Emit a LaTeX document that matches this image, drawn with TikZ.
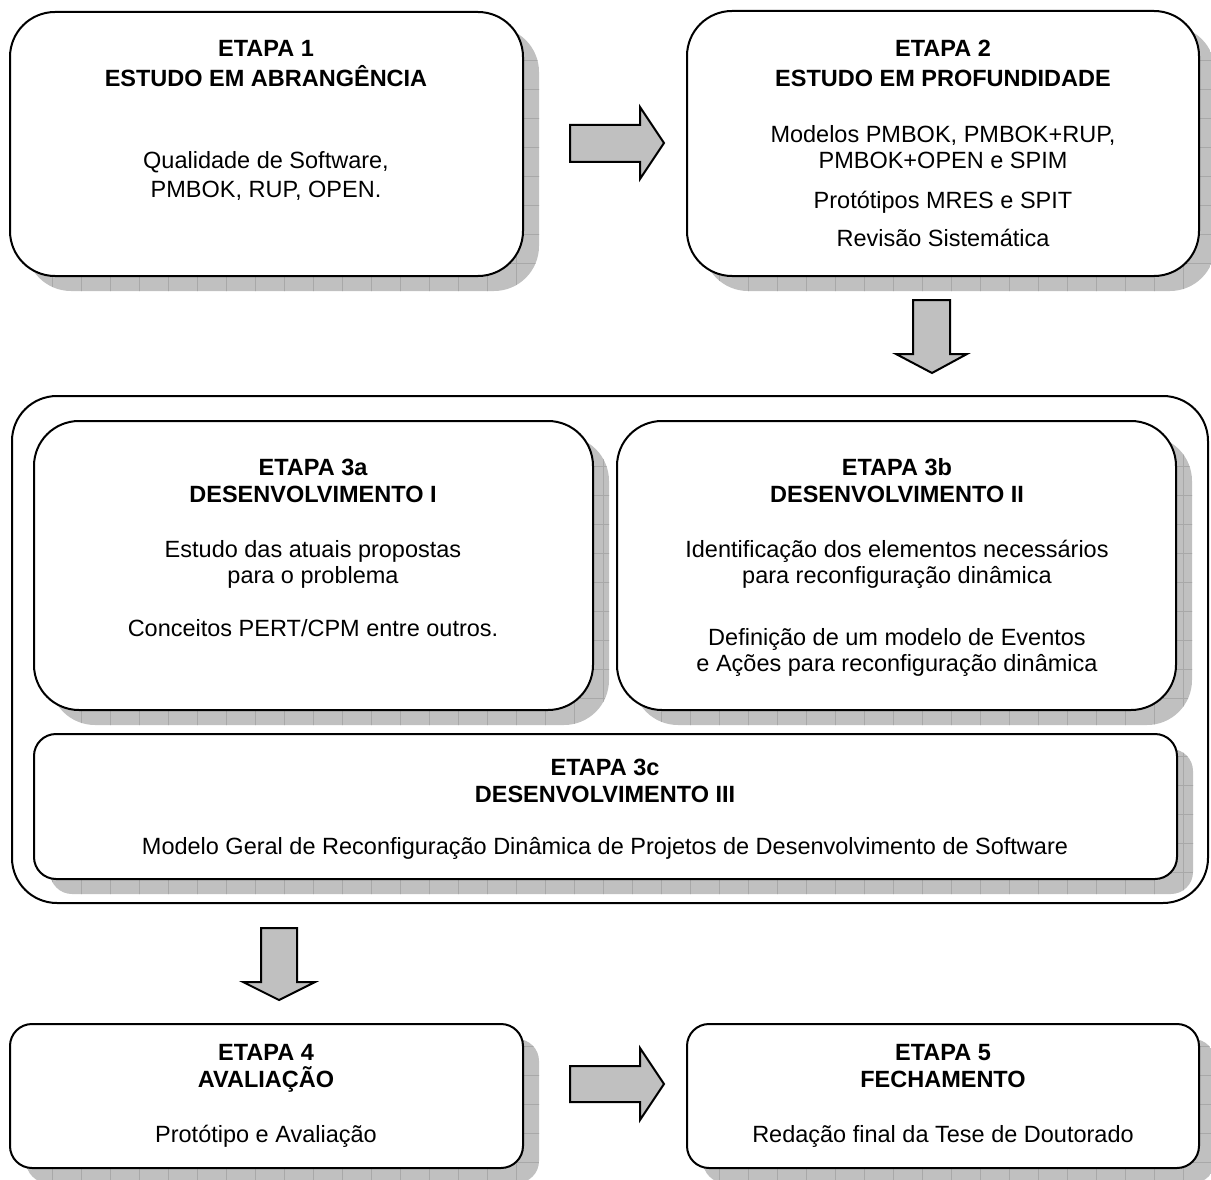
\documentclass[tikz,border=0pt]{standalone}
\usepackage{fontspec}
\setmainfont{Liberation Sans}
\definecolor{shadowgray}{RGB}{192,192,192}
\definecolor{gridgray}{RGB}{168,168,168}
\definecolor{arrowgray}{RGB}{192,192,192}
\newcommand\stagebox[6]{% name, x1, y1, x2, y2, radius
  \begin{scope}
    \clip[rounded corners=#6pt] (#2+16,#3+15) rectangle (#4+16,#5+15);
    \fill[shadowgray] (#2,#3) rectangle (#4+20,#5+20);
    \begin{scope}[shift={(23,2)}]
      \draw[gridgray, line width=0.6pt, step=29pt] (-30,-30) grid (1240,1210);
    \end{scope}
  \end{scope}
  \node[stage, rounded corners=#6pt, minimum width={#4-#2}, minimum height={#5-#3}]
    (#1) at ({(#2+#4)/2},{(#3+#5)/2}) {};
}
\begin{document}
\begin{tikzpicture}[x=1pt,y=-1pt,
  stage/.style={draw=black, line width=2pt, fill=white, inner sep=0pt, outer sep=0pt},
  ttl/.style={font=\fontsize{23.5}{27}\selectfont\bfseries, inner sep=0pt, anchor=base},
  txt/.style={font=\fontsize{23.5}{27}\selectfont, inner sep=0pt, anchor=base},
  blockarrow/.style={draw=black, line width=2pt, fill=arrowgray, line join=miter}]
\useasboundingbox (0,0) rectangle (1211,1180);
\fill[white] (0,0) rectangle (1211,1180);

% boxes
\stagebox{b1}{10}{12}{523}{276}{45}
\stagebox{b2}{687}{11}{1199}{276}{45}
\node[stage, rounded corners=45pt, minimum width=1196, minimum height=507, fill=none] (outer) at (610,649.5) {};
\stagebox{b3a}{34}{421}{593}{710}{45}
\stagebox{b3b}{617}{421}{1176}{710}{45}
\stagebox{b3c}{34}{734}{1177}{879}{22}
\stagebox{b4}{10}{1024}{523}{1168}{22}
\stagebox{b5}{687}{1024}{1199}{1168}{22}

% block arrows
\draw[blockarrow] (570,125) -- (640,125) -- (640,107) -- (664,143) -- (640,179) -- (640,162) -- (570,162) -- cycle;
\draw[blockarrow] (913,300) -- (950,300) -- (950,354) -- (967,354) -- (932,373) -- (896,354) -- (913,354) -- cycle;
\draw[blockarrow] (261,928) -- (297,928) -- (297,982) -- (315,982) -- (279,1000) -- (243,982) -- (261,982) -- cycle;
\draw[blockarrow] (570,1066) -- (640,1066) -- (640,1048) -- (664,1084) -- (640,1120) -- (640,1102) -- (570,1102) -- cycle;

% texts box 1
\node[ttl] (t1a) at (266,57) {ETAPA 1};
\node[ttl] (t1b) at (266,87) {ESTUDO EM ABRANGÊNCIA};
\node[txt] (t1c) at (266,169) {Qualidade de Software,};
\node[txt] (t1d) at (266,197) {PMBOK, RUP, OPEN.};
% box 2
\node[ttl] (t2a) at (943,57) {ETAPA 2};
\node[ttl] (t2b) at (943,87) {ESTUDO EM PROFUNDIDADE};
\node[txt] (t2c) at (943,143) {Modelos PMBOK, PMBOK+RUP,};
\node[txt] (t2d) at (943,169) {PMBOK+OPEN e SPIM};
\node[txt] (t2e) at (943,208) {Protótipos MRES e SPIT};
\node[txt] (t2f) at (943,246) {Revisão Sistemática};
% box 3a
\node[ttl] (t3a1) at (313,475) {ETAPA 3a};
\node[ttl] (t3a2) at (313,502) {DESENVOLVIMENTO I};
\node[txt] (t3a3) at (313,557) {Estudo das atuais propostas};
\node[txt] (t3a4) at (313,583) {para o problema};
\node[txt] (t3a5) at (313,636) {Conceitos PERT/CPM entre outros.};
% box 3b
\node[ttl] (t3b1) at (897,475) {ETAPA 3b};
\node[ttl] (t3b2) at (897,502) {DESENVOLVIMENTO II};
\node[txt] (t3b3) at (897,557) {Identificação dos elementos necessários};
\node[txt] (t3b4) at (897,583) {para reconfiguração dinâmica};
\node[txt] (t3b5) at (897,645) {Definição de um modelo de Eventos};
\node[txt] (t3b6) at (897,671) {e Ações para reconfiguração dinâmica};
% box 3c
\node[ttl] (t3c1) at (605,775) {ETAPA 3c};
\node[ttl] (t3c2) at (605,802) {DESENVOLVIMENTO III};
\node[txt] (t3c3) at (605,854) {Modelo Geral de Reconfiguração Dinâmica de Projetos de Desenvolvimento de Software};
% box 4
\node[ttl] (t4a) at (266,1060) {ETAPA 4};
\node[ttl] (t4b) at (266,1087) {AVALIAÇÃO};
\node[txt] (t4c) at (266,1142) {Protótipo e Avaliação};
% box 5
\node[ttl] (t5a) at (943,1060) {ETAPA 5};
\node[ttl] (t5b) at (943,1087) {FECHAMENTO};
\node[txt] (t5c) at (943,1142) {Redação final da Tese de Doutorado};
\end{tikzpicture}
\end{document}
